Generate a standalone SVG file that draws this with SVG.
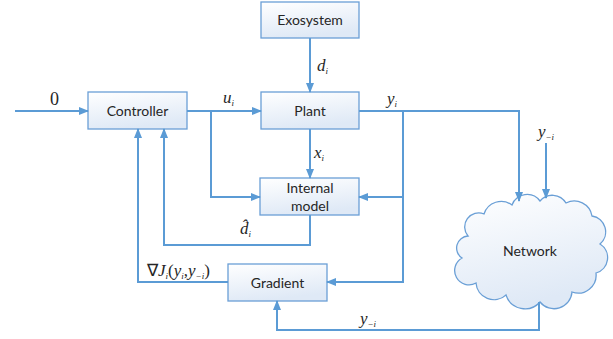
<svg xmlns="http://www.w3.org/2000/svg" width="613" height="339" viewBox="0 0 613 339">
<defs>
<linearGradient id="bg" x1="0" y1="0" x2="0.3" y2="1">
<stop offset="0" stop-color="#ffffff"/>
<stop offset="1" stop-color="#dfe9f6"/>
</linearGradient>
<marker id="ah" markerWidth="10" markerHeight="8" refX="9" refY="4" orient="auto" markerUnits="userSpaceOnUse">
<path d="M0,0 L10,4 L0,8 Z" fill="#5b9bd5"/>
</marker>
<style>
.box{fill:url(#bg);stroke:#6a9fd6;stroke-width:1.3}
.lbl{font-family:Lato,"Open Sans","Liberation Sans",sans-serif;font-size:14px;fill:#262626;text-anchor:middle}
.m{font-family:"Liberation Serif","Times New Roman",serif;font-style:italic;font-size:17px;fill:#262626}
.s{font-size:9px}
.c{fill:none;stroke:#5b9bd5;stroke-width:2}
</style>
</defs>
<g id="exosystem"><rect class="box" x="261" y="2" width="98" height="36"/><text class="lbl" x="310" y="25">Exosystem</text></g>
<g id="controller"><rect class="box" x="88" y="92" width="99" height="37"/><text class="lbl" x="137.5" y="116">Controller</text></g>
<g id="plant"><rect class="box" x="261" y="92" width="98" height="37"/><text class="lbl" x="310" y="116">Plant</text></g>
<g id="internal-model"><rect class="box" x="260" y="178" width="99" height="37"/><text class="lbl" x="310" y="193">Internal</text><text class="lbl" x="310" y="211">model</text></g>
<g id="gradient"><rect class="box" x="228" y="264" width="99" height="37"/><text class="lbl" x="277.5" y="288">Gradient</text></g>
<g id="network">
<path d="M468,236 A14,14 0 0 1 484,214 A18,18 0 0 1 512,205 A16,16 0 0 1 540,201 A16,16 0 0 1 566,203 A18,18 0 0 1 592,216 A16,16 0 0 1 600,244 A16,16 0 0 1 596,273 A18,18 0 0 1 572,292 A18,18 0 0 1 540,302 A20,20 0 0 1 506,295 A18,18 0 0 1 476,283 A14,14 0 0 1 462,258 A12,12 0 0 1 468,236 Z" fill="url(#bg)" stroke="#6a9fd6" stroke-width="1.3"/>
<text class="lbl" x="530" y="256">Network</text>
</g>
<g id="connectors">
<path class="c" d="M15,111 H88" marker-end="url(#ah)"/>
<path class="c" d="M187,111 H261" marker-end="url(#ah)"/>
<path class="c" d="M211,111 V197 H260" marker-end="url(#ah)"/>
<path class="c" d="M310,38 V92" marker-end="url(#ah)"/>
<path class="c" d="M310,129 V178" marker-end="url(#ah)"/>
<path class="c" d="M359,111 H519 V201" marker-end="url(#ah)"/>
<path class="c" d="M403,111 V282 H327" marker-end="url(#ah)"/>
<path class="c" d="M403,197 H359" marker-end="url(#ah)"/>
<path class="c" d="M546,143 V198" marker-end="url(#ah)"/>
<path class="c" d="M310,215 V245 H164 V129" marker-end="url(#ah)"/>
<path class="c" d="M228,282 H138 V129" marker-end="url(#ah)"/>
<path class="c" d="M539,302 V330 H277 V301" marker-end="url(#ah)"/>
</g>
<g id="labels">
<text class="m" x="50" y="105" style="font-style:normal;font-size:18px">0</text>
<text class="m" x="223" y="103">u<tspan class="s" dy="3">i</tspan></text>
<text class="m" x="317" y="71">d<tspan class="s" dy="3">i</tspan></text>
<text class="m" x="387" y="104">y<tspan class="s" dy="3">i</tspan></text>
<text class="m" x="314" y="158">x<tspan class="s" dy="3">i</tspan></text>
<text class="m" x="538" y="137">y<tspan class="s" dy="3">−i</tspan></text>
<text class="m" x="240" y="234">d̂<tspan class="s" dy="3">i</tspan></text>
<text class="m" x="147" y="276"><tspan style="font-style:normal">∇</tspan>J<tspan class="s" dy="3">i</tspan><tspan dy="-3" style="font-style:normal">(</tspan>y<tspan class="s" dy="3">i</tspan><tspan dy="-3" style="font-style:normal">,</tspan>y<tspan class="s" dy="3">−i</tspan><tspan dy="-3" style="font-style:normal">)</tspan></text>
<text class="m" x="360" y="324">y<tspan class="s" dy="3">−i</tspan></text>
</g>
</svg>
